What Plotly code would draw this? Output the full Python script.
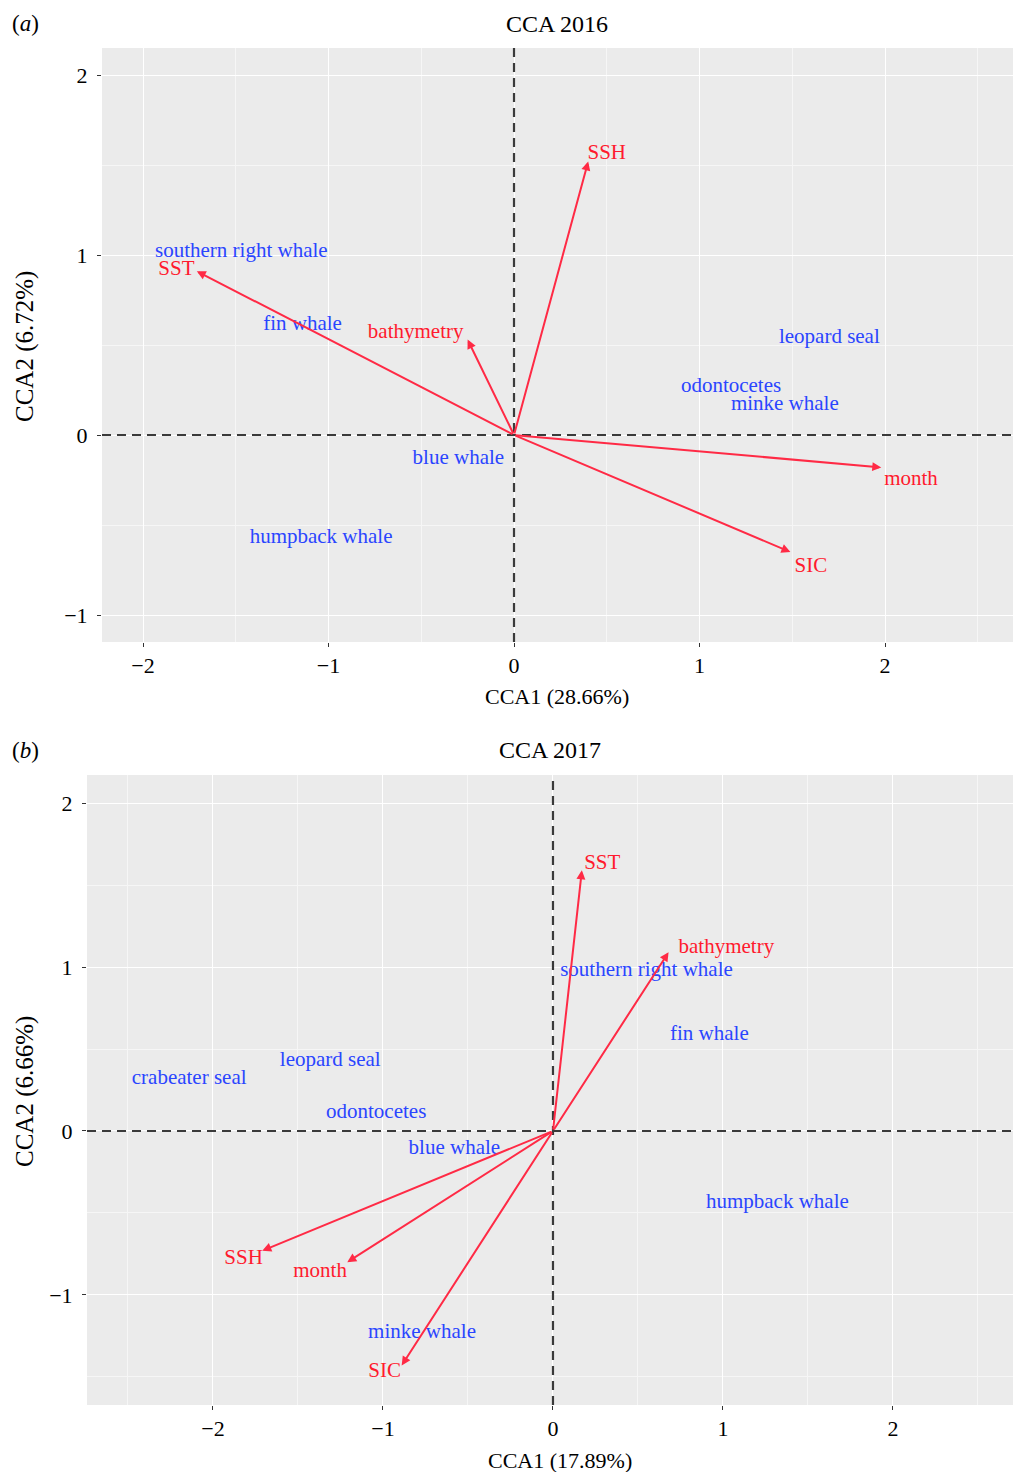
import plotly.graph_objects as go

# ---------------- data: panel (a) CCA 2016 ----------------
env_a = ["SST", "bathymetry", "SSH", "month", "SIC"]
env_a_x = [-1.71, -0.25, 0.40, 1.98, 1.49]
env_a_y = [0.91, 0.53, 1.52, -0.18, -0.65]
env_a_lab_x = [-1.82, -0.53, 0.50, 2.14, 1.60]
env_a_lab_y = [0.92, 0.57, 1.56, -0.25, -0.73]

sp_a = ["southern right whale", "fin whale", "leopard seal", "odontocetes",
        "minke whale", "blue whale", "humpback whale"]
sp_a_x = [-1.47, -1.14, 1.70, 1.17, 1.46, -0.30, -1.04]
sp_a_y = [1.02, 0.61, 0.54, 0.27, 0.17, -0.13, -0.57]

# ---------------- data: panel (b) CCA 2017 ----------------
env_b = ["SST", "bathymetry", "SSH", "month", "SIC"]
env_b_x = [0.17, 0.68, -1.71, -1.21, -0.89]
env_b_y = [1.59, 1.09, -0.73, -0.80, -1.43]
env_b_lab_x = [0.29, 1.02, -1.82, -1.37, -0.99]
env_b_lab_y = [1.63, 1.12, -0.78, -0.86, -1.47]

sp_b = ["southern right whale", "fin whale", "leopard seal", "crabeater seal",
        "odontocetes", "blue whale", "humpback whale", "minke whale"]
sp_b_x = [0.55, 0.92, -1.31, -2.14, -1.04, -0.58, 1.32, -0.77]
sp_b_y = [0.98, 0.59, 0.43, 0.32, 0.11, -0.11, -0.44, -1.23]

tick_vals = [-2, -1, 0, 1, 2]

# ---------------- styles ----------------
FONT = "Liberation Serif"
RED = "#FF1A2E"
ARROW = "#FF2A45"
BLUE = "#2A45FF"
BG = "#EBEBEB"

W, H = 1013, 1472

fig = go.Figure()

panels = [
    dict(xa="x", ya="y", env=env_a, ex=env_a_x, ey=env_a_y, lx=env_a_lab_x, ly=env_a_lab_y,
         sp=sp_a, sx=sp_a_x, sy=sp_a_y),
    dict(xa="x2", ya="y2", env=env_b, ex=env_b_x, ey=env_b_y, lx=env_b_lab_x, ly=env_b_lab_y,
         sp=sp_b, sx=sp_b_x, sy=sp_b_y),
]

annotations = []
shapes = []
for p in panels:
    fig.add_trace(go.Scatter(x=p["sx"], y=p["sy"], text=p["sp"], mode="text",
                             textposition="middle center",
                             textfont=dict(family=FONT, size=21, color=BLUE),
                             xaxis=p["xa"], yaxis=p["ya"], showlegend=False,
                             hoverinfo="skip"))
    fig.add_trace(go.Scatter(x=p["lx"], y=p["ly"], text=p["env"], mode="text",
                             textposition="middle center",
                             textfont=dict(family=FONT, size=21, color=RED),
                             xaxis=p["xa"], yaxis=p["ya"], showlegend=False,
                             hoverinfo="skip"))
    # zero lines
    shapes.append(dict(type="line", xref=p["xa"], yref=p["ya"] + " domain",
                       x0=0, x1=0, y0=0, y1=1,
                       line=dict(color="#3A3A3A", width=2.2, dash="9px,6px")))
    shapes.append(dict(type="line", xref=p["xa"] + " domain", yref=p["ya"],
                       x0=0, x1=1, y0=0, y1=0,
                       line=dict(color="#3A3A3A", width=2.2, dash="9px,6px")))
    for xv, yv in zip(p["ex"], p["ey"]):
        annotations.append(dict(x=xv, y=yv, ax=0, ay=0, xref=p["xa"], yref=p["ya"],
                                axref=p["xa"], ayref=p["ya"], text="", showarrow=True,
                                arrowhead=2, arrowsize=0.9, arrowwidth=2,
                                arrowcolor=ARROW, standoff=0))


def paper_y(py):
    return 1 - py / H


def paper_x(px):
    return px / W


def label(text, px, py, size=22, angle=0):
    return dict(text=text, x=paper_x(px), y=paper_y(py), xref="paper", yref="paper",
                xanchor="center", yanchor="middle", showarrow=False, textangle=angle,
                font=dict(family=FONT, size=size, color="black"))


annotations += [
    label("CCA 2016", 557, 24, 24),
    label("CCA 2017", 550, 750, 24),
    label("(<i>a</i>)", 25, 24, 23),
    label("(<i>b</i>)", 25, 750, 23),
    label("CCA1 (28.66%)", 557, 697, 22),
    label("CCA1 (17.89%)", 560, 1460, 22),
    label("CCA2 (6.72%)", 25, 347, 25, -90),
    label("CCA2 (6.66%)", 25, 1092, 25, -90),
]

axis_common = dict(
    showgrid=True, gridcolor="white", gridwidth=1.4,
    minor=dict(dtick=0.5, showgrid=True, gridcolor="#F6F6F6", gridwidth=0.7, ticks=""),
    tickmode="array", tickvals=tick_vals,
    ticks="outside", ticklen=4, tickwidth=1, tickcolor="#333333",
    tickfont=dict(family=FONT, size=22, color="black"),
    zeroline=False, showline=False, fixedrange=True,
)

fig.update_layout(
    width=W, height=H,
    margin=dict(l=0, r=0, t=0, b=0),
    paper_bgcolor="white",
    plot_bgcolor=BG,
    xaxis=dict(domain=[102 / W, 1.0], range=[-2.221, 2.690], anchor="y", **axis_common),
    yaxis=dict(domain=[paper_y(642), paper_y(48)], range=[-1.15, 2.15], anchor="x",
               ticklabelstandoff=5, **axis_common),
    xaxis2=dict(domain=[87 / W, 1.0], range=[-2.741, 2.706], anchor="y2", **axis_common),
    yaxis2=dict(domain=[paper_y(1405), paper_y(775)], range=[-1.671, 2.171], anchor="x2",
                ticklabelstandoff=5, **axis_common),
    annotations=annotations,
    shapes=shapes,
    showlegend=False,
)

fig.write_html("out.html", config={"displayModeBar": False},
               post_script="document.body.style.margin='0';document.body.style.overflow='hidden';")
